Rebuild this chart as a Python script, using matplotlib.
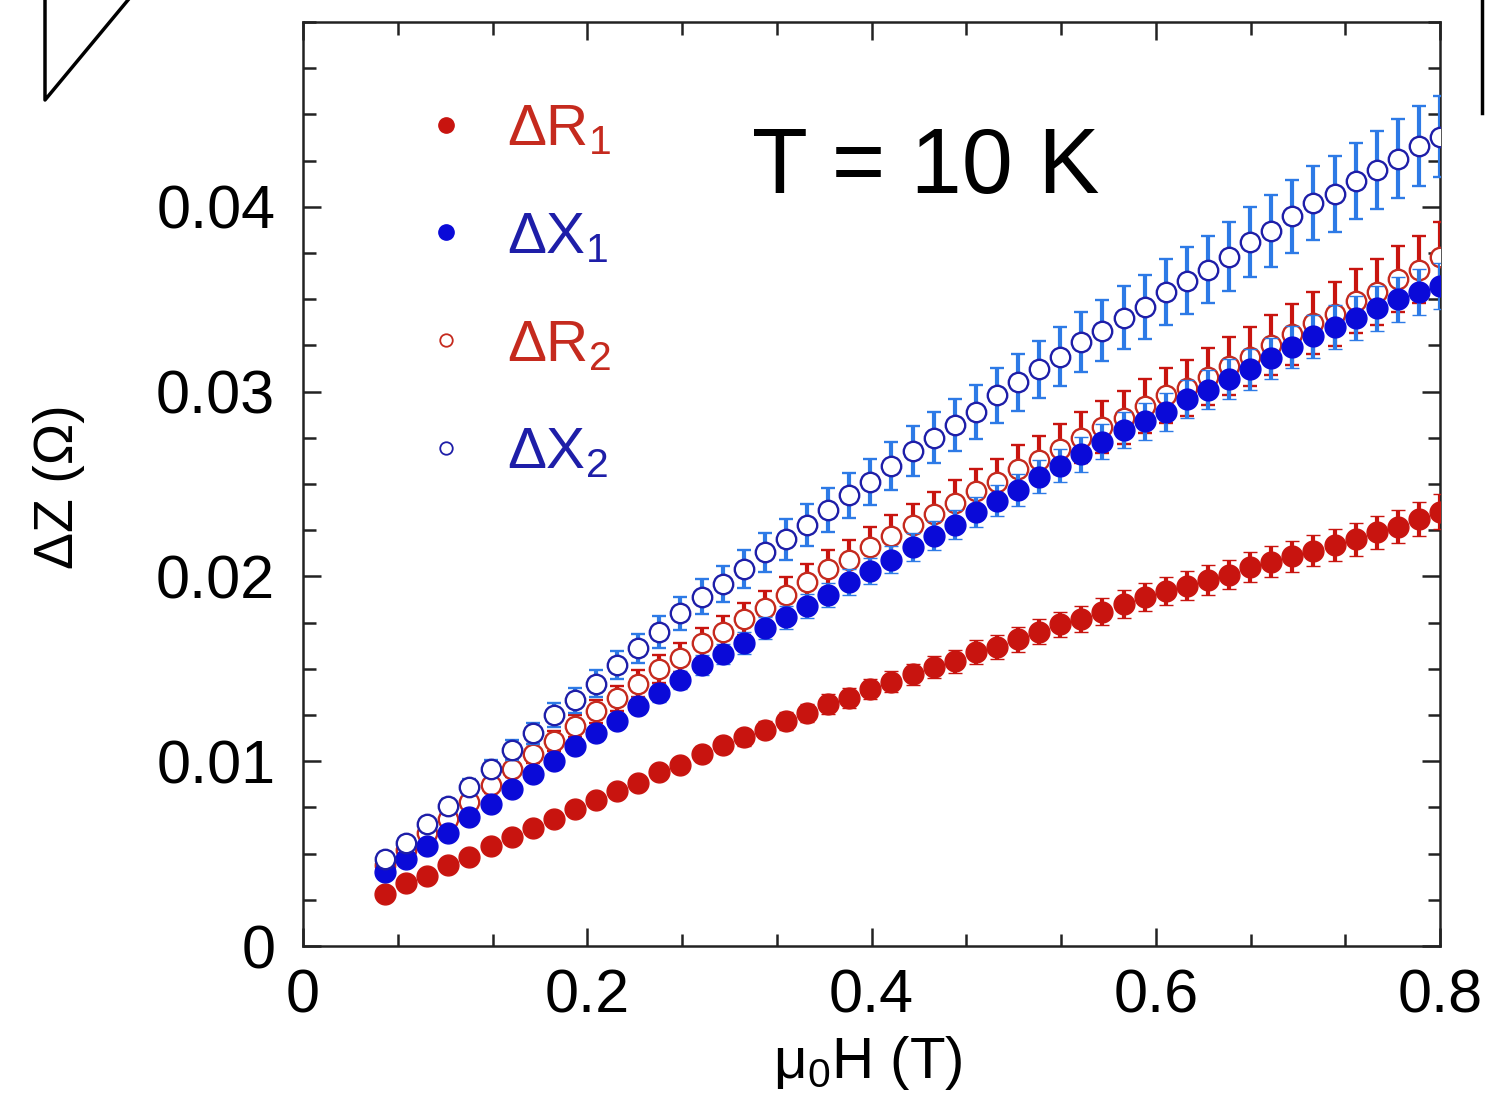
import matplotlib
matplotlib.use("Agg")
import matplotlib.pyplot as plt
from matplotlib.lines import Line2D
from matplotlib.ticker import MultipleLocator, FixedLocator
import numpy as np

plt.rcParams['font.family'] = ['Liberation Sans', 'DejaVu Sans']
plt.rcParams['mathtext.fontset'] = 'custom'
plt.rcParams['mathtext.rm'] = 'Liberation Sans'
plt.rcParams['mathtext.it'] = 'Liberation Sans'

# ---------------- data ----------------
field = [0.0577, 0.0725, 0.0874, 0.1022, 0.1171, 0.1319, 0.1468, 0.1616, 0.1765, 0.1913,
         0.2062, 0.2210, 0.2359, 0.2507, 0.2655, 0.2804, 0.2952, 0.3101, 0.3249, 0.3398,
         0.3546, 0.3695, 0.3843, 0.3992, 0.4140, 0.4289, 0.4437, 0.4585, 0.4734, 0.4882,
         0.5031, 0.5179, 0.5328, 0.5476, 0.5625, 0.5773, 0.5922, 0.6070, 0.6219, 0.6367,
         0.6515, 0.6664, 0.6812, 0.6961, 0.7109, 0.7258, 0.7406, 0.7555, 0.7703, 0.7852,
         0.8000]

dR1 = [0.0028, 0.0034, 0.0038, 0.0044, 0.0048, 0.0054, 0.0059, 0.0064, 0.0069, 0.0074,
       0.0079, 0.0084, 0.0088, 0.0094, 0.0098, 0.0104, 0.0109, 0.0113, 0.0117, 0.0122,
       0.0126, 0.0131, 0.0134, 0.0139, 0.0143, 0.0147, 0.0151, 0.0154, 0.0159, 0.0162,
       0.0166, 0.0170, 0.0174, 0.0177, 0.0181, 0.0185, 0.0189, 0.0192, 0.0195, 0.0198,
       0.0201, 0.0205, 0.0208, 0.0211, 0.0214, 0.0217, 0.0220, 0.0224, 0.0227, 0.0231,
       0.0235]

dX1 = [0.0040, 0.0047, 0.0054, 0.0061, 0.0070, 0.0077, 0.0085, 0.0093, 0.0100, 0.0108,
       0.0115, 0.0122, 0.0130, 0.0137, 0.0144, 0.0152, 0.0158, 0.0164, 0.0172, 0.0178,
       0.0184, 0.0190, 0.0197, 0.0203, 0.0209, 0.0216, 0.0222, 0.0228, 0.0235, 0.0241,
       0.0247, 0.0254, 0.0260, 0.0266, 0.0273, 0.0279, 0.0284, 0.0289, 0.0296, 0.0301,
       0.0307, 0.0312, 0.0318, 0.0324, 0.0330, 0.0335, 0.0340, 0.0345, 0.0350, 0.0354,
       0.0357]

dR2 = [0.0044, 0.0052, 0.0061, 0.0069, 0.0078, 0.0087, 0.0096, 0.0104, 0.0111, 0.0119,
       0.0127, 0.0134, 0.0142, 0.0150, 0.0156, 0.0164, 0.0170, 0.0177, 0.0183, 0.0190,
       0.0197, 0.0204, 0.0209, 0.0216, 0.0222, 0.0228, 0.0234, 0.0240, 0.0246, 0.0251,
       0.0258, 0.0263, 0.0269, 0.0275, 0.0281, 0.0286, 0.0292, 0.0298, 0.0302, 0.0308,
       0.0314, 0.0319, 0.0325, 0.0331, 0.0337, 0.0342, 0.0349, 0.0354, 0.0361, 0.0366,
       0.0373]

dX2 = [0.0047, 0.0056, 0.0066, 0.0076, 0.0086, 0.0096, 0.0106, 0.0115, 0.0125, 0.0133,
       0.0142, 0.0152, 0.0161, 0.0170, 0.0180, 0.0189, 0.0196, 0.0204, 0.0213, 0.0220,
       0.0228, 0.0236, 0.0244, 0.0251, 0.0260, 0.0268, 0.0275, 0.0282, 0.0289, 0.0298,
       0.0305, 0.0312, 0.0319, 0.0327, 0.0333, 0.0340, 0.0346, 0.0354, 0.0360, 0.0366,
       0.0373, 0.0381, 0.0387, 0.0395, 0.0402, 0.0407, 0.0414, 0.0420, 0.0426, 0.0433,
       0.0438]

# relative error-bar size for each series
rel_err_R1 = 0.040
rel_err_X1 = 0.035
rel_err_R2 = 0.050
rel_err_X2 = 0.050

legend_labels = ['ΔR$_1$', 'ΔX$_1$', 'ΔR$_2$', 'ΔX$_2$']
x_ticks = [0, 0.2, 0.4, 0.6, 0.8]
x_ticklabels = ['0', '0.2', '0.4', '0.6', '0.8']
y_ticks = [0, 0.01, 0.02, 0.03, 0.04]
y_ticklabels = ['0', '0.01', '0.02', '0.03', '0.04']

# ---------------- styles ----------------
RED = '#c8140f'
RED_OPEN = '#c52a1e'
BLUE = '#0a0ad8'
BLUE_BAR = '#2d7ae6'
BLUE_OPEN = '#1e1ea8'

fig = plt.figure(figsize=(14.87, 11.08), dpi=100)
ax = fig.add_axes([0.2038, 0.1462, 0.7646, 0.8339])

x = np.array(field)
common = dict(fmt='o', ms=15, elinewidth=3.0, capsize=5.0, capthick=3.0, ls='none')

ax.errorbar(x, dR1, yerr=np.array(dR1) * rel_err_R1, mfc=RED, mec=RED, mew=1.0,
            ecolor=RED, zorder=3, **common)
ax.errorbar(x, dR2, yerr=np.array(dR2) * rel_err_R2, mfc='white', mec=RED_OPEN, mew=1.7,
            ecolor=RED, zorder=4, **dict(common, ms=14))
ax.errorbar(x, dX1, yerr=np.array(dX1) * rel_err_X1, mfc=BLUE, mec=BLUE, mew=1.0,
            ecolor=BLUE_BAR, zorder=5, **common)
ax.errorbar(x, dX2, yerr=np.array(dX2) * rel_err_X2, mfc='white', mec=BLUE_OPEN, mew=1.7,
            ecolor=BLUE_BAR, zorder=6, **dict(common, ms=14))

ax.set_xlim(0, 0.8)
ax.set_ylim(0, 0.05)

ax.xaxis.set_major_locator(FixedLocator(x_ticks))
ax.set_xticklabels(x_ticklabels)
ax.xaxis.set_minor_locator(MultipleLocator(0.2 / 3))
ax.yaxis.set_major_locator(FixedLocator(y_ticks))
ax.set_yticklabels(y_ticklabels)
ax.yaxis.set_minor_locator(MultipleLocator(0.0025))

ax.tick_params(which='both', direction='in', top=True, right=True, width=1.8, color='#222222')
ax.tick_params(which='major', length=13)
ax.tick_params(which='minor', length=9)
ax.tick_params(axis='y', which='major', labelsize=44, pad=20)
ax.tick_params(axis='x', which='major', labelsize=44, pad=16)
for s in ax.spines.values():
    s.set_linewidth(1.8)
    s.set_color('#222222')

ax.set_ylabel('ΔZ (Ω)', fontsize=40)
ax.yaxis.set_label_coords(-0.192, 0.497)
ax.set_xlabel('μ$_0$H (T)', fontsize=42)
ax.xaxis.set_label_coords(0.497, -0.095)

ax.text(0.395, 0.815, 'T = 10 K', transform=ax.transAxes, fontsize=66,
        ha='left', va='baseline', color='black')

handles = [
    Line2D([], [], marker='o', ls='none', ms=11, mfc=RED, mec=RED),
    Line2D([], [], marker='o', ls='none', ms=11, mfc=BLUE, mec=BLUE),
    Line2D([], [], marker='o', ls='none', ms=9, mfc='white', mec=RED_OPEN, mew=1.3),
    Line2D([], [], marker='o', ls='none', ms=9, mfc='white', mec=BLUE_OPEN, mew=1.3),
]
leg = ax.legend(handles, legend_labels, loc='upper left', bbox_to_anchor=(0.064, 0.969),
                frameon=False, fontsize=42, handlelength=0.6, handletextpad=0.75,
                labelspacing=0.92, labelcolor=[RED_OPEN, BLUE_OPEN, RED_OPEN, BLUE_OPEN])

# fragments of neighbouring panels at the top edge of the crop
fig.add_artist(Line2D([45 / 1487, 45 / 1487, 128 / 1487], [1.0, 1 - 100 / 1108, 1.0],
                      transform=fig.transFigure, color='black', lw=2.5))
fig.add_artist(Line2D([1482 / 1487, 1482 / 1487], [1.0, 1 - 113 / 1108],
                      transform=fig.transFigure, color='black', lw=2.5))

fig.savefig('out.png', dpi=100, facecolor='white')
